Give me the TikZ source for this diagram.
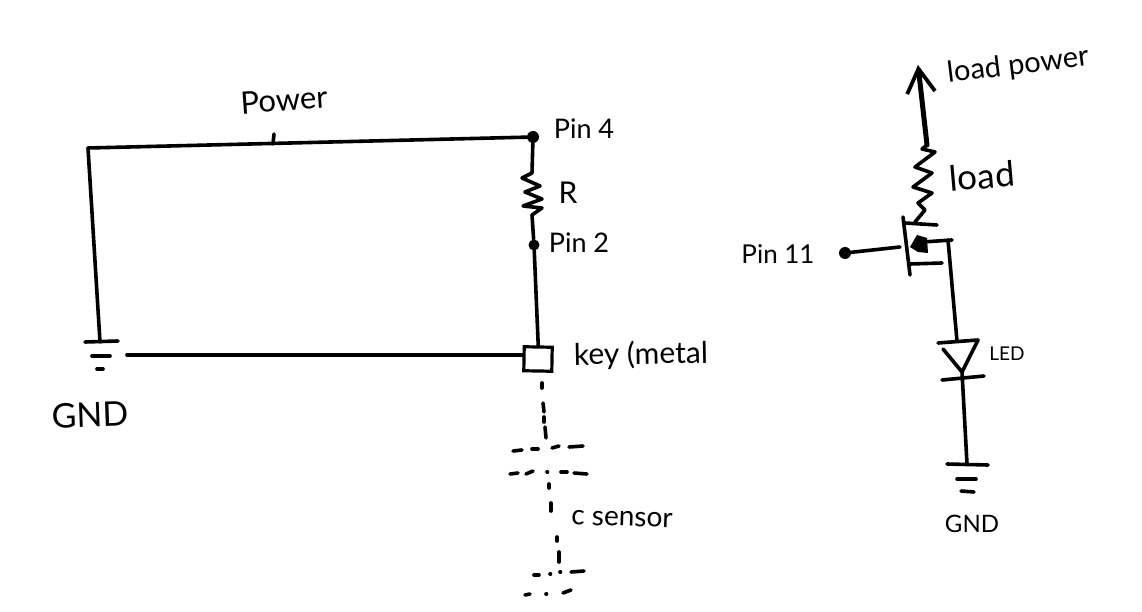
\documentclass[tikz,border=0pt]{standalone}
\usepackage{fontspec}
\setmainfont{Lato}
\usetikzlibrary{positioning,arrows.meta}
\tikzset{
  wire/.style={line width=3.6pt,line cap=round,line join=round},
  dotnode/.style={circle,fill=black,inner sep=0pt,minimum size=12pt},
  lbl/.style={inner sep=0pt,font=\fontsize{#1}{#1}\selectfont},
}
\begin{document}
\begin{tikzpicture}[x=1pt,y=-1pt]
\useasboundingbox (0,0) rectangle (1142,612);
% left circuit
\coordinate (corner) at (88,148);
\coordinate (gndtop) at (100,342);
\coordinate (gndwire) at (127,355);
\coordinate (powertick) at (274,134);
\coordinate (powerbase) at (273,144);
\node[dotnode] (pin4) at (533,137) {};
\node[dotnode,minimum size=11pt] (pin2) at (534,245) {};
\node[draw,line width=3.2pt,minimum width=28pt,minimum height=24pt,inner sep=0pt,rotate=-1] (key) at (538,359) {};
\draw[wire] (corner) -- (pin4);
\draw[wire] (powerbase) -- (powertick);
\draw[wire] (corner) -- (gndtop);
\draw[wire] (gndwire) -- (key.west |- gndwire);
\draw[wire] (pin2) -- (key.north);
\draw[wire] (pin4) -- (532,173) -- (522,178) -- (540,186) -- (525,192) -- (542,199) -- (523,206) -- (542,208) -- (532,215) -- (pin2);
\draw[wire] (85,342) -- (118,341);
\draw[wire] (92,356) -- (110,356);
\draw[wire] (97,369) -- (103,369);
% broken lines of the sensor
\foreach \xa/\ya/\xb/\yb in {
  542/383/542/388, 543/403/544/412, 544/417/544/422, 545/427/546/438,
  513/451/522/450, 532/449/538/449, 552/448/559/446, 569/447/583/446,
  510/474/518/473, 526/474/533/471, 547/472/547.5/472, 561/472/567/472, 574/473/587/474,
  549/484/549/488, 551/503/551/511, 557/537/557/541, 559/552/559/562,
  534/575/539/575, 550/574/550.5/574, 560/572/560.5/572, 571/572/584/571,
  525/595/530/594, 546/594/546.5/594, 563/593/571/590}
  \draw[wire] (\xa,\ya) -- (\xb,\yb);
\node[lbl=31,rotate=4] (powerlbl) at (284,100) {Power};
\node[lbl=27] (pin4lbl) at (584,129) {Pin 4};
\node[lbl=30] (rlbl) at (568,193) {R};
\node[lbl=27] (pin2lbl) at (579,243) {Pin 2};
\node[lbl=30,rotate=1] (keylbl) at (641,355) {key (metal};
\node[lbl=34,rotate=2] (gndlbl) at (90,415) {GND};
\node[lbl=28,rotate=-2] (senselbl) at (622,519) {c sensor};
% right circuit
\coordinate (fettop) at (915,222);
\coordinate (loadtop) at (927,145);
\coordinate (arrowtip) at (918,65);
\coordinate (fetmid) at (948,240);
\coordinate (ledin) at (957,341);
\coordinate (ledout) at (962,372);
\coordinate (gndb) at (967,464);
\node[dotnode] (pin11) at (845,253) {};
\draw[line width=5pt,line cap=round,-{Straight Barb[length=24pt,width=28pt,line width=3.8pt]}] (loadtop) -- (arrowtip);
\draw[wire] (loadtop) -- (922,149) -- (935,152) -- (915,167) -- (932,173) -- (913,187) -- (932,193) -- (918,203) -- (925,210) -- (fettop);
\draw[wire] (pin11) -- (900,247);
\draw[wire] (903,217) -- (910,275);
\draw[wire] (905,223) -- (937,225);
\draw[wire] (910,264) -- (942,263);
\draw[wire] (923,242) -- (952,240);
\fill (910,247) -- (917,235) -- (927,238) -- (928,253) -- (918,252) -- cycle;
\draw[wire] (fetmid) -- (ledin);
\draw[wire] (938,343) -- (978,340) -- (ledout) -- (943,349);
\draw[wire] (942,380) -- (984,376);
\draw[wire] (ledout) -- (gndb);
\draw[wire] (947,464) -- (988,465);
\draw[wire] (957,479) -- (976,479);
\draw[wire] (961,491) -- (974,492);
\node[lbl=29,rotate=7] (powerload) at (1018,66) {load power};
\node[lbl=35,rotate=5] (loadlbl) at (982,176) {load};
\node[lbl=26] (pin11lbl) at (778,254) {Pin 11};
\node[lbl=19] (ledlbl) at (1007,354) {LED};
\node[lbl=24] (gndrlbl) at (972,524) {GND};
\end{tikzpicture}
\end{document}
